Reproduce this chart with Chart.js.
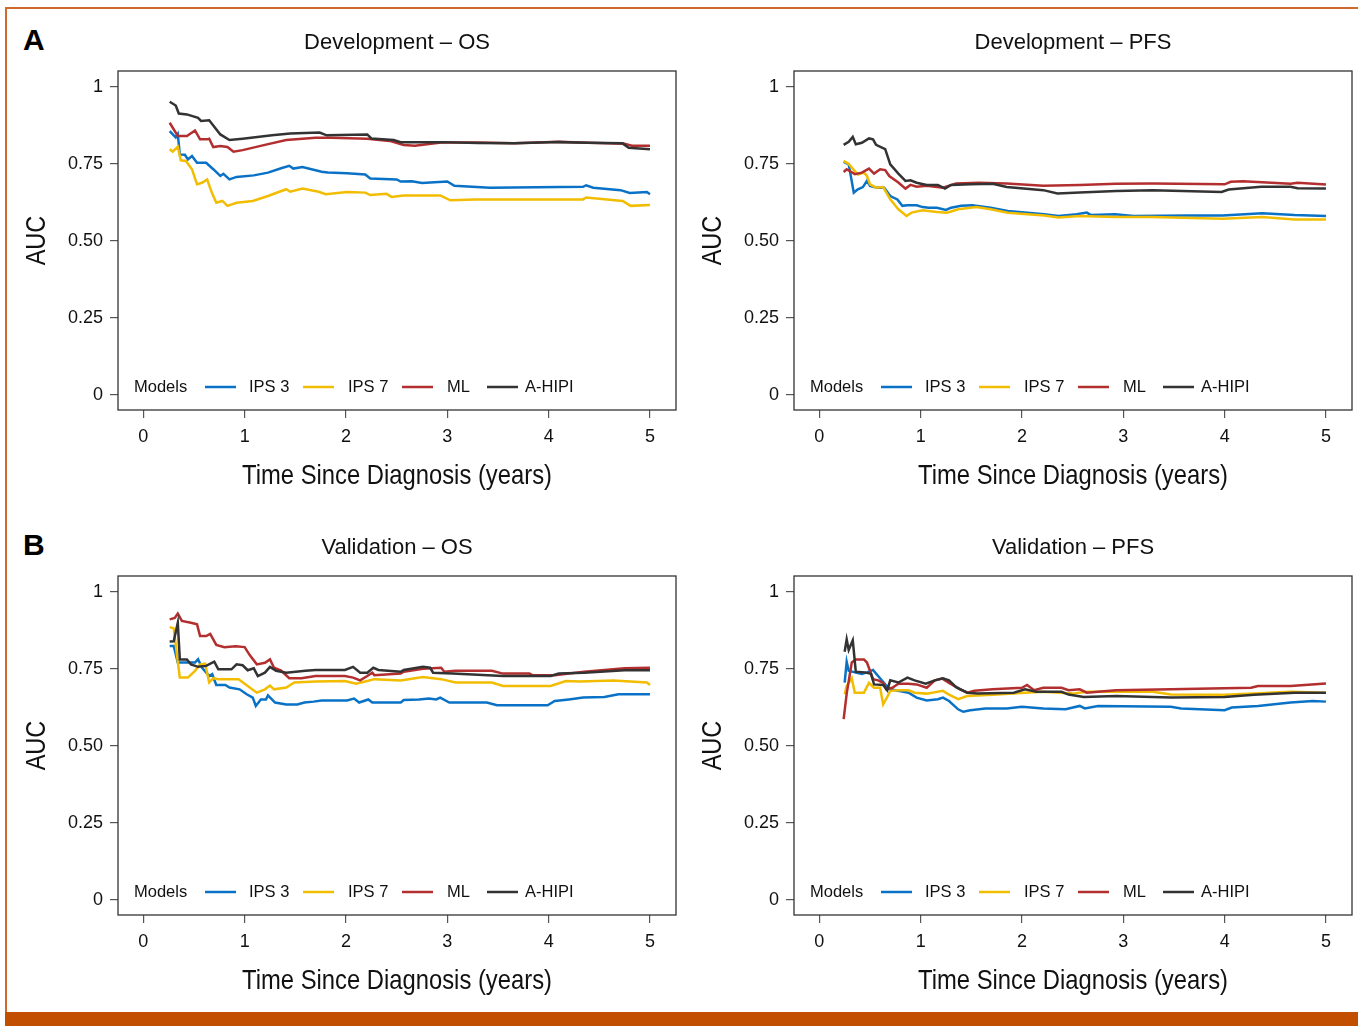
<!DOCTYPE html>
<html>
<head>
<meta charset="utf-8">
<script src="https://cdn.jsdelivr.net/npm/chart.js@4.4.1/dist/chart.umd.min.js"></script>
<style>
  html, body { margin: 0; padding: 0; background: #fff; }
  body { width: 1358px; height: 1026px; position: relative; overflow: hidden; font-family: 'Liberation Sans', Arial, sans-serif; }
  .panel { position: absolute; width: 690px; height: 500px; }
  .tag { position: absolute; font-weight: bold; font-size: 30px; line-height: 30px; color: #000; }
  .rule { position: absolute; background: #d0692a; }
</style>
</head>
<body>
<div class="rule" style="left:5px;top:7px;width:1353px;height:2px;"></div>
<div class="rule" style="left:5px;top:7px;width:2px;height:1006px;"></div>
<div class="rule" style="left:5px;top:1012px;width:1353px;height:14px;background:#c24e00;"></div>
<div class="tag" style="left:23px;top:25px;">A</div>
<div class="tag" style="left:23px;top:530px;">B</div>

<div class="panel" style="left:0px;top:10px;"><canvas id="devOS" width="690" height="500"></canvas></div>
<div class="panel" style="left:676px;top:10px;"><canvas id="devPFS" width="690" height="500"></canvas></div>
<div class="panel" style="left:0px;top:515px;"><canvas id="valOS" width="690" height="500"></canvas></div>
<div class="panel" style="left:676px;top:515px;"><canvas id="valPFS" width="690" height="500"></canvas></div>

<script>
// legend / series names
const models = ['IPS 3', 'IPS 7', 'ML', 'A-HIPI'];
const colors = ['#0a72c6', '#f2bd00', '#b32e2e', '#333333'];

// axis ticks
const xTicks = [0, 1, 2, 3, 4, 5];
const yTicks = [0, 0.25, 0.5, 0.75, 1];
const yTickLabels = ['0', '0.25', '0.50', '0.75', '1'];

// Development - OS
const devOsIps3T = [0.26,0.32,0.34,0.36,0.41,0.44,0.48,0.53,0.62,0.69,0.76,0.79,0.85,0.92,1.09,1.23,1.36,1.44,1.48,1.57,1.66,1.76,1.82,2.01,2.19,2.24,2.50,2.54,2.65,2.75,3.00,3.07,3.42,4.34,4.37,4.44,4.71,4.80,4.97,5.00];
const devOsIps3 = [0.857,0.836,0.847,0.781,0.780,0.765,0.776,0.754,0.754,0.733,0.711,0.718,0.700,0.708,0.713,0.722,0.736,0.744,0.735,0.740,0.733,0.725,0.722,0.720,0.716,0.703,0.700,0.693,0.694,0.688,0.693,0.679,0.673,0.676,0.681,0.673,0.665,0.656,0.659,0.652];
const devOsIps7T = [0.26,0.29,0.34,0.37,0.42,0.48,0.53,0.58,0.63,0.67,0.72,0.78,0.83,0.92,1.08,1.23,1.41,1.45,1.57,1.73,1.80,2.01,2.19,2.24,2.40,2.45,2.57,2.93,3.03,3.28,4.34,4.37,4.73,4.81,5.00];
const devOsIps7 = [0.798,0.790,0.806,0.762,0.760,0.733,0.684,0.689,0.700,0.662,0.624,0.630,0.614,0.624,0.630,0.646,0.668,0.660,0.670,0.660,0.652,0.659,0.657,0.649,0.653,0.643,0.648,0.648,0.632,0.635,0.635,0.641,0.630,0.614,0.617];
const devOsMlT = [0.26,0.34,0.43,0.51,0.56,0.63,0.65,0.69,0.76,0.83,0.89,0.98,1.20,1.41,1.70,1.85,2.21,2.43,2.57,2.68,2.94,3.30,3.66,4.10,4.39,4.75,4.82,5.00];
const devOsMl = [0.884,0.841,0.841,0.859,0.830,0.830,0.832,0.805,0.808,0.805,0.790,0.795,0.812,0.828,0.835,0.835,0.832,0.825,0.812,0.809,0.820,0.820,0.817,0.822,0.819,0.816,0.809,0.809];
const devOsHipiT = [0.26,0.32,0.35,0.43,0.54,0.57,0.65,0.76,0.85,0.98,1.27,1.45,1.74,1.81,2.21,2.25,2.47,2.54,2.94,3.30,3.66,4.10,4.39,4.73,4.79,5.00];
const devOsHipi = [0.952,0.940,0.914,0.911,0.900,0.890,0.892,0.846,0.828,0.832,0.843,0.849,0.852,0.843,0.846,0.833,0.828,0.821,0.821,0.818,0.817,0.821,0.819,0.817,0.803,0.798];

// Development - PFS
const devPfsIps3T = [0.24,0.29,0.34,0.38,0.43,0.47,0.50,0.57,0.64,0.70,0.77,0.82,0.87,0.96,1.02,1.08,1.16,1.25,1.30,1.40,1.51,1.69,1.86,2.22,2.36,2.54,2.64,2.68,2.92,3.10,3.63,3.98,4.37,4.69,5.00];
const devPfsIps3 = [0.757,0.749,0.657,0.668,0.675,0.695,0.679,0.673,0.673,0.646,0.635,0.614,0.616,0.616,0.610,0.608,0.608,0.601,0.608,0.614,0.616,0.608,0.597,0.587,0.581,0.587,0.592,0.584,0.587,0.581,0.583,0.583,0.590,0.584,0.581];
const devPfsIps7T = [0.24,0.29,0.38,0.44,0.47,0.50,0.56,0.63,0.70,0.78,0.86,0.91,1.02,1.16,1.26,1.37,1.55,1.69,1.86,2.22,2.36,2.57,2.92,3.28,3.98,4.37,4.69,5.00];
const devPfsIps7 = [0.760,0.750,0.716,0.722,0.711,0.684,0.673,0.675,0.635,0.603,0.581,0.592,0.600,0.594,0.592,0.603,0.610,0.603,0.592,0.583,0.576,0.581,0.578,0.578,0.572,0.578,0.570,0.570];
const devPfsMlT = [0.24,0.27,0.35,0.42,0.49,0.54,0.60,0.65,0.69,0.78,0.85,0.90,0.96,1.06,1.22,1.35,1.57,1.85,2.21,2.57,2.93,3.29,4.00,4.06,4.18,4.65,4.72,5.00];
const devPfsMl = [0.724,0.733,0.717,0.722,0.735,0.719,0.733,0.730,0.711,0.690,0.670,0.682,0.676,0.679,0.673,0.687,0.689,0.687,0.679,0.682,0.686,0.687,0.684,0.692,0.694,0.686,0.689,0.683];
const devPfsHipiT = [0.24,0.29,0.33,0.36,0.42,0.49,0.53,0.56,0.65,0.70,0.78,0.85,0.90,0.96,1.06,1.17,1.24,1.30,1.49,1.71,1.85,2.21,2.35,2.57,2.93,3.29,3.97,4.04,4.36,4.65,4.72,5.00];
const devPfsHipi = [0.812,0.822,0.838,0.814,0.819,0.833,0.830,0.812,0.798,0.749,0.719,0.695,0.697,0.689,0.682,0.682,0.670,0.682,0.684,0.686,0.675,0.665,0.654,0.657,0.662,0.665,0.659,0.667,0.676,0.676,0.671,0.670];

// Validation - OS
const valOsIps3T = [0.26,0.30,0.34,0.51,0.54,0.58,0.65,0.68,0.72,0.81,0.85,0.95,1.02,1.08,1.11,1.16,1.21,1.23,1.30,1.41,1.52,1.59,1.68,1.76,2.01,2.08,2.13,2.22,2.26,2.54,2.57,2.72,2.82,2.89,2.93,3.02,3.39,3.49,3.99,4.06,4.20,4.34,4.55,4.69,4.83,5.00];
const valOsIps3 = [0.825,0.825,0.771,0.771,0.782,0.754,0.727,0.733,0.698,0.698,0.690,0.684,0.668,0.657,0.630,0.651,0.651,0.664,0.641,0.635,0.635,0.641,0.644,0.648,0.648,0.654,0.641,0.651,0.641,0.641,0.649,0.651,0.654,0.651,0.657,0.641,0.641,0.632,0.632,0.646,0.651,0.657,0.659,0.668,0.668,0.668];
const valOsIps7T = [0.26,0.30,0.36,0.44,0.51,0.56,0.61,0.65,0.69,0.74,0.94,1.03,1.12,1.20,1.25,1.29,1.41,1.49,1.70,1.99,2.10,2.21,2.28,2.54,2.76,2.94,3.08,3.44,3.55,4.02,4.17,4.31,4.64,4.97,5.00];
const valOsIps7 = [0.886,0.882,0.722,0.722,0.744,0.765,0.767,0.706,0.720,0.717,0.717,0.695,0.673,0.684,0.696,0.684,0.690,0.706,0.709,0.711,0.702,0.711,0.717,0.713,0.724,0.717,0.706,0.706,0.695,0.695,0.711,0.709,0.713,0.706,0.698];
const valOsMlT = [0.26,0.31,0.34,0.38,0.47,0.53,0.56,0.62,0.66,0.72,0.80,0.91,1.00,1.05,1.12,1.20,1.25,1.29,1.36,1.44,1.56,1.70,1.99,2.07,2.14,2.21,2.26,2.28,2.54,2.57,2.76,2.94,2.97,3.08,3.44,3.55,3.81,3.84,4.06,4.35,4.75,5.00];
const valOsMl = [0.911,0.916,0.930,0.906,0.900,0.895,0.857,0.857,0.864,0.828,0.821,0.824,0.821,0.795,0.765,0.770,0.781,0.754,0.745,0.720,0.720,0.727,0.727,0.722,0.713,0.727,0.738,0.730,0.735,0.741,0.751,0.754,0.741,0.744,0.744,0.735,0.735,0.730,0.730,0.741,0.752,0.754];
const valOsHipiT = [0.26,0.30,0.34,0.36,0.43,0.47,0.54,0.62,0.70,0.74,0.87,0.92,0.98,1.03,1.09,1.13,1.20,1.25,1.31,1.41,1.60,1.70,1.99,2.07,2.14,2.21,2.27,2.32,2.54,2.57,2.76,2.83,2.86,3.05,3.55,4.02,4.10,4.35,4.75,5.00];
const valOsHipi = [0.839,0.840,0.900,0.781,0.781,0.765,0.757,0.760,0.774,0.749,0.749,0.765,0.762,0.746,0.752,0.727,0.738,0.757,0.744,0.738,0.744,0.747,0.747,0.757,0.738,0.738,0.754,0.747,0.741,0.747,0.757,0.754,0.738,0.735,0.727,0.727,0.735,0.738,0.746,0.746];

// Validation - PFS
const valPfsIps3T = [0.25,0.27,0.29,0.35,0.42,0.47,0.53,0.58,0.65,0.70,0.78,0.88,0.96,1.06,1.17,1.22,1.28,1.37,1.42,1.49,1.64,1.85,2.00,2.21,2.43,2.57,2.62,2.75,3.47,3.57,4.00,4.07,4.33,4.65,4.87,5.00];
const valPfsIps3 = [0.706,0.773,0.744,0.739,0.734,0.739,0.747,0.727,0.700,0.684,0.679,0.673,0.657,0.648,0.652,0.657,0.646,0.619,0.611,0.616,0.622,0.622,0.627,0.622,0.619,0.630,0.622,0.630,0.627,0.622,0.616,0.625,0.630,0.641,0.646,0.644];
const valPfsIps7T = [0.25,0.27,0.32,0.35,0.44,0.49,0.54,0.60,0.63,0.67,0.70,0.78,0.88,0.94,1.06,1.22,1.28,1.37,1.46,1.71,2.03,2.21,2.50,2.64,3.29,3.47,4.00,4.29,4.65,5.00];
const valPfsIps7 = [0.668,0.695,0.720,0.673,0.673,0.705,0.689,0.689,0.635,0.659,0.679,0.681,0.681,0.673,0.670,0.679,0.667,0.652,0.662,0.666,0.673,0.676,0.670,0.676,0.676,0.667,0.666,0.670,0.676,0.673];
const valPfsMlT = [0.24,0.27,0.32,0.36,0.44,0.47,0.53,0.58,0.63,0.66,0.72,0.78,0.88,0.96,1.06,1.14,1.21,1.28,1.39,1.46,1.53,1.71,2.00,2.05,2.12,2.21,2.39,2.46,2.57,2.64,2.75,2.93,3.47,4.26,4.33,4.65,5.00];
const valPfsMl = [0.587,0.670,0.771,0.781,0.781,0.771,0.717,0.713,0.705,0.684,0.689,0.702,0.702,0.700,0.689,0.713,0.719,0.705,0.684,0.673,0.679,0.684,0.689,0.698,0.681,0.689,0.689,0.681,0.684,0.673,0.676,0.681,0.684,0.689,0.695,0.695,0.703];
const valPfsHipiT = [0.25,0.27,0.29,0.33,0.36,0.45,0.51,0.54,0.63,0.67,0.70,0.78,0.87,0.94,1.05,1.14,1.22,1.28,1.35,1.46,1.56,1.92,2.03,2.14,2.39,2.46,2.61,2.93,3.47,4.00,4.29,4.69,5.00];
const valPfsHipi = [0.806,0.846,0.812,0.843,0.741,0.739,0.734,0.700,0.698,0.681,0.713,0.706,0.722,0.713,0.702,0.713,0.720,0.713,0.691,0.673,0.670,0.673,0.684,0.676,0.676,0.667,0.659,0.662,0.657,0.659,0.666,0.673,0.673];

const fam = "'Liberation Sans', Arial, sans-serif";
const tickFont = { family: fam, size: 18 };

// draws text squeezed along its own direction (the original uses a condensed face)
function narrowText(ctx, text, x, y, size, squeeze, rot) {
  ctx.save();
  ctx.translate(x, y);
  ctx.rotate(rot);
  ctx.scale(squeeze, 1);
  ctx.font = size + 'px ' + fam;
  ctx.textAlign = 'center';
  ctx.textBaseline = 'middle';
  ctx.fillText(text, 0, 0);
  ctx.restore();
}

// box, panel title, axis titles and the in-plot legend
const framePlugin = {
  id: 'frame',
  afterDraw(chart, args, opts) {
    const { ctx, chartArea: a } = chart;
    ctx.save();
    ctx.strokeStyle = '#333';
    ctx.lineWidth = 1.3;
    ctx.strokeRect(a.left, a.top, a.right - a.left, a.bottom - a.top);

    ctx.fillStyle = '#111';
    ctx.font = '22px ' + fam;
    ctx.textAlign = 'center';
    ctx.textBaseline = 'middle';
    ctx.fillText(opts.title, (a.left + a.right) / 2, a.top - 28);

    narrowText(ctx, 'Time Since Diagnosis (years)', (a.left + a.right) / 2, a.bottom + 66, 28, 0.85, 0);
    narrowText(ctx, 'AUC', a.left - 81, (a.top + a.bottom) / 2, 28, 0.84, -Math.PI / 2);

    // legend
    const ly = a.bottom - 23;
    ctx.font = '16.5px ' + fam;
    ctx.textAlign = 'left';
    ctx.fillText('Models', a.left + 16, ly);
    const lineX = [87, 185, 284, 369];
    const textX = [131, 230, 329, 407];
    models.forEach((m, i) => {
      ctx.strokeStyle = colors[i];
      ctx.lineWidth = 2.5;
      ctx.beginPath();
      ctx.moveTo(a.left + lineX[i], ly);
      ctx.lineTo(a.left + lineX[i] + 31, ly);
      ctx.stroke();
      ctx.fillText(m, a.left + textX[i], ly);
    });
    ctx.restore();
  }
};

function pts(t, v) {
  return t.map((x, i) => ({ x: x, y: v[i] }));
}

function makePanel(id, title, series) {
  new Chart(id, {
    type: 'line',
    data: {
      datasets: series.map((s, i) => ({
        label: models[i],
        data: pts(s[0], s[1]),
        borderColor: colors[i],
        borderWidth: 2.5,
        pointRadius: 0,
        tension: 0,
        fill: false,
        order: 3 - i,
      })),
    },
    options: {
      responsive: false,
      animation: false,
      layout: { padding: { left: 0, right: 14, top: 61, bottom: 10 } },
      plugins: {
        legend: { display: false },
        tooltip: { enabled: false },
        frame: { title: title },
      },
      scales: {
        x: {
          type: 'linear',
          min: -0.25,
          max: 5.257,
          afterBuildTicks: (s) => { s.ticks = xTicks.map(v => ({ value: v })); },
          afterFit: (s) => { s.height = 90; },
          grid: { drawOnChartArea: false, drawTicks: true, tickLength: 8, color: '#555', lineWidth: 1.2 },
          border: { display: false },
          ticks: { color: '#111', font: tickFont, padding: 8, maxRotation: 0 },
        },
        y: {
          min: -0.049,
          max: 1.052,
          afterBuildTicks: (s) => { s.ticks = yTicks.map(v => ({ value: v })); },
          afterFit: (s) => { s.width = 118; },
          grid: { drawOnChartArea: false, drawTicks: true, tickLength: 8, color: '#555', lineWidth: 1.2 },
          border: { display: false },
          ticks: {
            color: '#111',
            font: tickFont,
            padding: 7,
            callback: (v) => yTickLabels[yTicks.indexOf(v)],
          },
        },
      },
    },
    plugins: [framePlugin],
  });
}

makePanel('devOS', 'Development \u2013 OS', [
  [devOsIps3T, devOsIps3], [devOsIps7T, devOsIps7], [devOsMlT, devOsMl], [devOsHipiT, devOsHipi]]);
makePanel('devPFS', 'Development \u2013 PFS', [
  [devPfsIps3T, devPfsIps3], [devPfsIps7T, devPfsIps7], [devPfsMlT, devPfsMl], [devPfsHipiT, devPfsHipi]]);
makePanel('valOS', 'Validation \u2013 OS', [
  [valOsIps3T, valOsIps3], [valOsIps7T, valOsIps7], [valOsMlT, valOsMl], [valOsHipiT, valOsHipi]]);
makePanel('valPFS', 'Validation \u2013 PFS', [
  [valPfsIps3T, valPfsIps3], [valPfsIps7T, valPfsIps7], [valPfsMlT, valPfsMl], [valPfsHipiT, valPfsHipi]]);
</script>
</body>
</html>
